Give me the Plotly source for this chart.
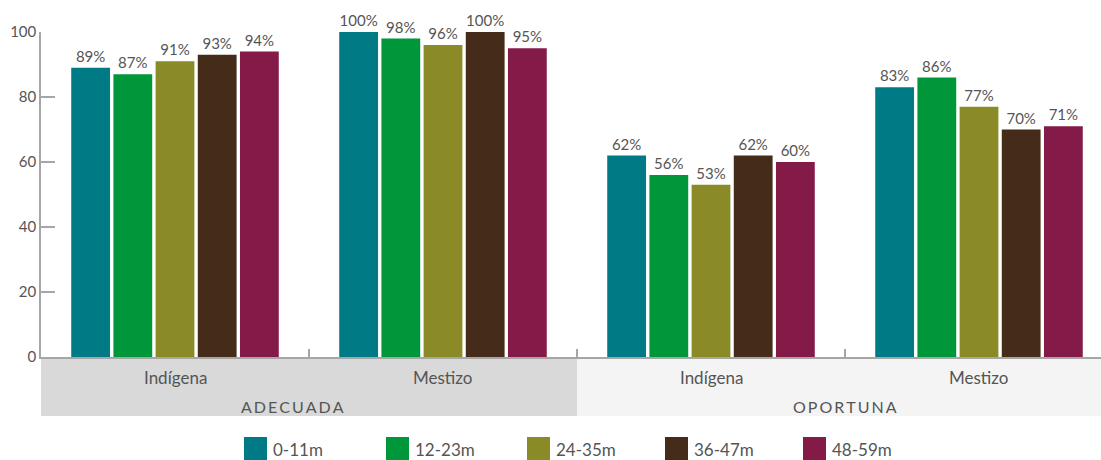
import plotly.graph_objects as go

# Data
groups = ["Indígena", "Mestizo", "Indígena", "Mestizo"]
sections = ["ADECUADA", "OPORTUNA"]
series_names = ["0-11m", "12-23m", "24-35m", "36-47m", "48-59m"]
series_colors = ["#007b86", "#00963a", "#8a8a27", "#452b1a", "#841a47"]
values_0_11 = [89, 100, 62, 83]
values_12_23 = [87, 98, 56, 86]
values_24_35 = [91, 96, 53, 77]
values_36_47 = [93, 100, 62, 70]
values_48_59 = [94, 95, 60, 71]
y_ticks = [0, 20, 40, 60, 80, 100]

series_values = [values_0_11, values_12_23, values_24_35, values_36_47, values_48_59]

FONT = "Lato"
TEXT = "#555555"
AXIS = "#a6a6a6"

W, H = 1101, 460
ML, MT, MB = 41, 32, 103
plot_w = W - ML
plot_h = H - MT - MB
group_px = 268
x_end = -0.5 + plot_w / group_px
xpos = list(range(len(groups)))

fig = go.Figure()
for name, color, vals in zip(series_names, series_colors, series_values):
    fig.add_trace(go.Bar(
        x=xpos, y=vals, name=name, marker_color=color, marker_line_width=0,
        text=[f"{v}%" for v in vals], textposition="outside",
        textfont=dict(family=FONT, size=15, color=TEXT),
        cliponaxis=False, constraintext="none", showlegend=False,
    ))


def py(pix):
    """Pixel row -> paper y relative to plot area."""
    return (H - MB - pix) / plot_h


def px(pix):
    return (pix - ML) / plot_w


shapes = []
annotations = []

# Section bands under the axis
band_bottom = py(416)
shapes.append(dict(type="rect", xref="x", yref="paper", x0=-0.5, x1=1.5,
                   y0=band_bottom, y1=0, fillcolor="#d9d9d9", line_width=0, layer="below"))
shapes.append(dict(type="rect", xref="x", yref="paper", x0=1.5, x1=x_end,
                   y0=band_bottom, y1=0, fillcolor="#f4f4f4", line_width=0, layer="below"))

for i, g in enumerate(groups):
    annotations.append(dict(x=i, y=py(377), xref="x", yref="paper", text=g,
                            yanchor="middle", showarrow=False,
                            font=dict(family=FONT, size=17, color=TEXT)))

# Letter-spaced section titles
section_x = [0.44, 2.5]
for sx, s in zip(section_x, sections):
    annotations.append(dict(x=sx, y=py(407), xref="x", yref="paper",
                            text="\u2009".join(s), yanchor="middle",
                            showarrow=False, font=dict(family=FONT, size=16, color=TEXT)))

# Legend built from the series
legend_x = [244, 386, 527, 665, 803]
for lx, name, color in zip(legend_x, series_names, series_colors):
    shapes.append(dict(type="rect", xref="paper", yref="paper",
                       x0=px(lx), x1=px(lx + 23), y0=py(460), y1=py(437),
                       fillcolor=color, line_width=0))
    annotations.append(dict(x=px(lx + 27), y=py(449), xref="paper", yref="paper",
                            text=name, xanchor="left", yanchor="middle", showarrow=False,
                            font=dict(family=FONT, size=17, color=TEXT)))

fig.update_layout(
    width=W, height=H,
    margin=dict(l=ML, r=0, t=MT, b=MB),
    paper_bgcolor="white", plot_bgcolor="white",
    barmode="group", bargap=0.213, bargroupgap=0.08,
    shapes=shapes, annotations=annotations,
    xaxis=dict(range=[-0.5, x_end], tickvals=[0.5, 1.5, 2.5], ticks="inside",
               ticklen=8, tickcolor=AXIS, tickwidth=1.5, showticklabels=False,
               showline=True, linecolor=AXIS, linewidth=1.5, showgrid=False,
               zeroline=False, fixedrange=True),
    yaxis=dict(range=[0, 100], tickvals=y_ticks, ticks="inside", ticklen=14,
               tickcolor=AXIS, tickwidth=1.5, showline=True, linecolor=AXIS,
               linewidth=1.5, showgrid=False, zeroline=False,
               tickfont=dict(family=FONT, size=15, color=TEXT), fixedrange=True),
)

fig.write_html("out.html")
